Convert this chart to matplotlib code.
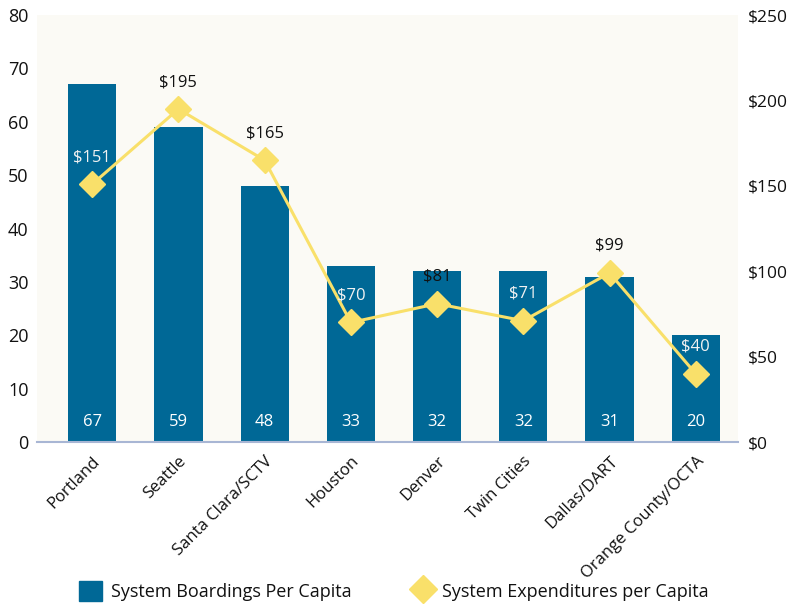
import matplotlib.pyplot as plt
from matplotlib.lines import Line2D
from matplotlib.patches import Patch

plt.rcParams['font.family'] = ['Open Sans', 'DejaVu Sans']

# Данные по системам общественного транспорта
cities = ['Portland', 'Seattle', 'Santa Clara/SCTV', 'Houston', 'Denver',
          'Twin Cities', 'Dallas/DART', 'Orange County/OCTA']
boardings = [67, 59, 48, 33, 32, 32, 31, 20]
expenditures = [151, 195, 165, 70, 81, 71, 99, 40]
# подписи расходов, которые лежат поверх столбцов, делаем белыми
label_inside = [True, False, False, True, False, True, False, True]

BLUE = '#006896'
YELLOW = '#F9E06A'
TEXT = '#111111'

fig = plt.figure(figsize=(7.88, 6.05), dpi=100)
ax = fig.add_axes([0.047, 0.2694, 0.8895, 0.7056])
ax.set_facecolor('#FBFAF5')

x = list(range(len(cities)))
ax.bar(x, boardings, width=0.56, color=BLUE, zorder=2)
for xi, v in zip(x, boardings):
    ax.annotate(str(v), (xi, 0), xytext=(0, 20), textcoords='offset pixels',
                ha='center', va='center', color='white', fontsize=12, zorder=5)

ax.set_xlim(-0.64, 7.49)
ax.set_ylim(0, 80)
ax.set_yticks(range(0, 81, 10))
ax.set_xticks(x)
ax.set_xticklabels(cities, rotation=45, ha='right', rotation_mode='anchor')
ax.tick_params(axis='y', length=0, labelsize=13, labelcolor=TEXT, pad=6)
ax.tick_params(axis='x', length=0, pad=8, labelsize=12, labelcolor=TEXT)
for side in ['left', 'right', 'top']:
    ax.spines[side].set_visible(False)
ax.spines['bottom'].set_color('#A8B6D4')
ax.spines['bottom'].set_linewidth(1.5)

# Вторая ось: расходы на душу населения
ax2 = ax.twinx()
ax2.plot(x, expenditures, color=YELLOW, linewidth=2.2, marker='D', markersize=13,
         markerfacecolor=YELLOW, markeredgecolor=YELLOW, zorder=3)
ax2.set_ylim(0, 250)
ax2.set_yticks(range(0, 251, 50))
ax2.set_yticklabels(['$%d' % t for t in range(0, 251, 50)])
ax2.tick_params(axis='y', length=0, labelsize=12.5, labelcolor=TEXT, pad=7)
for side in ['left', 'right', 'top', 'bottom']:
    ax2.spines[side].set_visible(False)
for xi, v, inside in zip(x, expenditures, label_inside):
    ax2.annotate('$%d' % v, (xi, v), xytext=(0, 27), textcoords='offset pixels',
                 ha='center', va='center', fontsize=12,
                 color='#F2F2F2' if inside else TEXT, zorder=5)

handles = [Patch(facecolor=BLUE, edgecolor=BLUE),
           Line2D([], [], linestyle='none', marker='D', markersize=14,
                  markerfacecolor=YELLOW, markeredgecolor=YELLOW)]
fig.legend(handles, ['System Boardings Per Capita', 'System Expenditures per Capita'],
           loc='lower center', bbox_to_anchor=(0.5, -0.02), ncol=2, frameon=False,
           fontsize=13, labelcolor=TEXT, handlelength=1.3, handleheight=1.3,
           columnspacing=3.3, handletextpad=0.45)

plt.savefig('out.png', dpi=100)
